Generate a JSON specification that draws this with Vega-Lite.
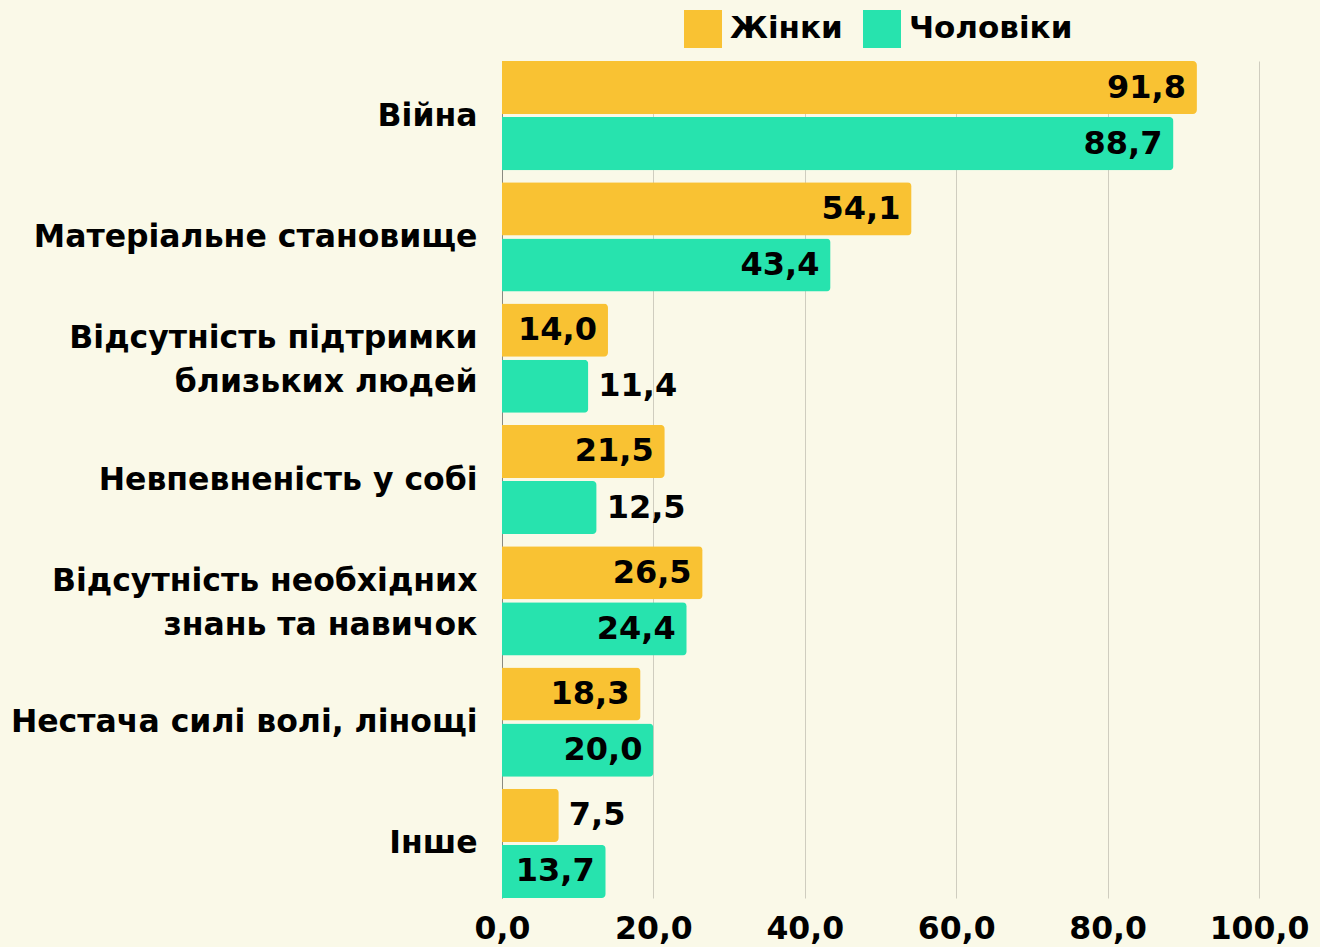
{
  "$schema": "https://vega.github.io/schema/vega-lite/v6.json",
  "autosize": "none",
  "width": 757,
  "height": 837,
  "padding": {"left": 502, "top": 61, "right": 61, "bottom": 49},
  "background": "#FAF9E8",
  "config": {
    "view": {"stroke": null},
    "font": "DejaVu Sans"
  },
  "data": {
    "values": [
      {"category": "Війна", "sex": "Жінки", "value": 91.8},
      {"category": "Війна", "sex": "Чоловіки", "value": 88.7},
      {"category": "Матеріальне становище", "sex": "Жінки", "value": 54.1},
      {"category": "Матеріальне становище", "sex": "Чоловіки", "value": 43.4},
      {"category": "Відсутність підтримки\nблизьких людей", "sex": "Жінки", "value": 14.0},
      {"category": "Відсутність підтримки\nблизьких людей", "sex": "Чоловіки", "value": 11.4},
      {"category": "Невпевненість у собі", "sex": "Жінки", "value": 21.5},
      {"category": "Невпевненість у собі", "sex": "Чоловіки", "value": 12.5},
      {"category": "Відсутність необхідних\nзнань та навичок", "sex": "Жінки", "value": 26.5},
      {"category": "Відсутність необхідних\nзнань та навичок", "sex": "Чоловіки", "value": 24.4},
      {"category": "Нестача силі волі, лінощі", "sex": "Жінки", "value": 18.3},
      {"category": "Нестача силі волі, лінощі", "sex": "Чоловіки", "value": 20.0},
      {"category": "Інше", "sex": "Жінки", "value": 7.5},
      {"category": "Інше", "sex": "Чоловіки", "value": 13.7}
    ]
  },
  "encoding": {
    "y": {
      "field": "category",
      "type": "nominal",
      "sort": null,
      "scale": {"paddingInner": 0.1, "paddingOuter": 0},
      "axis": {
        "title": null,
        "ticks": false,
        "domain": true,
        "domainColor": "#8a8a80",
        "domainWidth": 1,
        "labelPadding": 25,
        "labelFontSize": 31.5,
        "labelFontWeight": "bold",
        "labelColor": "#000000",
        "labelLineHeight": 44,
        "labelLimit": 600,
        "labelOffset": {"condition": {"test": "indexof(datum.value, '\\n') >= 0", "value": -19}, "value": 1},
        "labelExpr": "split(datum.label, '\\n')"
      }
    },
    "yOffset": {
      "field": "sex",
      "type": "nominal",
      "sort": ["Жінки", "Чоловіки"],
      "scale": {"paddingInner": 0.054, "paddingOuter": 0}
    },
    "x": {
      "field": "value",
      "type": "quantitative",
      "scale": {"domain": [0, 100], "nice": false},
      "axis": {
        "title": null,
        "values": [0, 20, 40, 60, 80, 100],
        "grid": true,
        "gridColor": "#cfcdbf",
        "gridWidth": 1,
        "domain": false,
        "ticks": false,
        "labelFlush": false,
        "labelPadding": 15,
        "labelFontSize": 31.5,
        "labelFontWeight": "bold",
        "labelColor": "#000000",
        "labelExpr": "replace(format(datum.value, '.1f'), '.', ',')"
      }
    }
  },
  "layer": [
    {
      "mark": {"type": "bar", "cornerRadiusEnd": 4},
      "encoding": {
        "color": {
          "field": "sex",
          "type": "nominal",
          "scale": {"domain": ["Жінки", "Чоловіки"], "range": ["#F9C233", "#27E3AE"]},
          "legend": {
            "title": null,
            "orient": "none",
            "legendX": 182,
            "legendY": -51,
            "direction": "horizontal",
            "padding": 0,
            "symbolType": "square",
            "symbolSize": 1444,
            "symbolStrokeWidth": 0,
            "symbolOpacity": 1,
            "labelFontSize": 31,
            "labelFontWeight": "bold",
            "labelColor": "#000000",
            "labelOffset": 8,
            "columnPadding": 20,
            "labelLimit": 300
          }
        }
      }
    },
    {
      "transform": [{"filter": "datum.value >= 13"}],
      "mark": {"type": "text", "align": "right", "baseline": "middle", "dx": -11, "fontSize": 32, "fontWeight": "bold", "color": "#000000",
        "text": {"expr": "replace(format(datum.value, '.1f'), '.', ',')"}},
      "encoding": {}
    },
    {
      "transform": [{"filter": "datum.value < 13"}],
      "mark": {"type": "text", "align": "left", "baseline": "middle", "dx": 10, "fontSize": 32, "fontWeight": "bold", "color": "#000000",
        "text": {"expr": "replace(format(datum.value, '.1f'), '.', ',')"}},
      "encoding": {}
    }
  ]
}
